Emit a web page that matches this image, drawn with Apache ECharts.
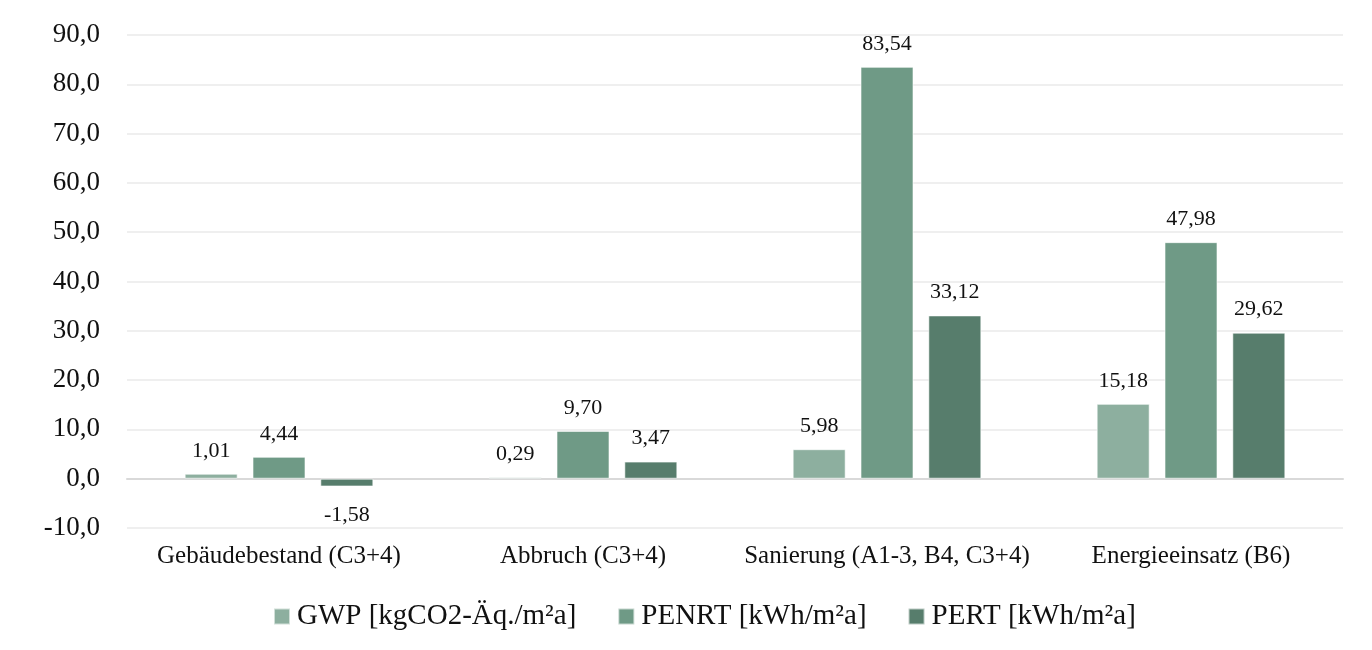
<!DOCTYPE html>
<html><head><meta charset="utf-8">
<script src="https://cdn.jsdelivr.net/npm/echarts@6/dist/echarts.min.js"></script>
<style>html,body{margin:0;padding:0;background:#fff}#c{width:1372px;height:650px}</style>
</head><body><div id="c"></div>
<script>
const categories = ['Gebäudebestand (C3+4)', 'Abbruch (C3+4)', 'Sanierung (A1-3, B4, C3+4)', 'Energieeinsatz (B6)'];
const seriesNames = ['GWP [kgCO2-Äq./m²a]', 'PENRT [kWh/m²a]', 'PERT [kWh/m²a]'];
const gwp = [1.01, 0.29, 5.98, 15.18];
const penrt = [4.44, 9.70, 83.54, 47.98];
const pert = [-1.58, 3.47, 33.12, 29.62];
const colors = ['#8daf9f', '#6f9a86', '#577d6c'];
const font = 'Liberation Serif, Times New Roman, serif';
const fmt = v => v.toFixed(2).replace('.', ',');
function mk(name, vals, color) {
  return {
    name, type: 'bar', barWidth: 53, barGap: '28%',
    itemStyle: { color, borderColor: 'rgba(255,255,255,0.6)', borderWidth: 1 },
    label: { show: true, position: 'top', distance: 12, color: '#111', fontFamily: font, fontSize: 22,
      formatter: p => fmt(p.value) },
    data: vals.map(v => v < 0 ? { value: v, label: { position: 'bottom', distance: 18 } } : v)
  };
}
const chart = echarts.init(document.getElementById('c'), null, { renderer: 'canvas' });
chart.setOption({
  animation: false,
  color: colors,
  grid: { left: 127, right: 29, top: 35, bottom: 122, containLabel: false },
  legend: {
    bottom: 14, left: 268, itemWidth: 16, itemHeight: 16, itemGap: 41,
    icon: 'rect',
    textStyle: { fontFamily: font, fontSize: 29, color: '#111', padding: [0, 0, 0, 2] },
    data: seriesNames
  },
  xAxis: {
    type: 'category', data: categories,
    axisLine: { show: true, onZero: true, lineStyle: { color: '#d9d9d9', width: 2 } },
    axisTick: { show: false },
    axisLabel: { interval: 0, fontFamily: font, fontSize: 25, color: '#111', margin: 16 },
    position: 'bottom'
  },
  yAxis: {
    type: 'value', min: -10, max: 90, interval: 10,
    axisLabel: { fontFamily: font, fontSize: 27, color: '#111', margin: 27,
      formatter: v => v.toFixed(1).replace('.', ',') },
    axisLine: { show: false }, axisTick: { show: false },
    splitLine: { lineStyle: { color: '#efefef', width: 2 } }
  },
  series: [mk(seriesNames[0], gwp, colors[0]), mk(seriesNames[1], penrt, colors[1]), mk(seriesNames[2], pert, colors[2])]
});
</script></body></html>
